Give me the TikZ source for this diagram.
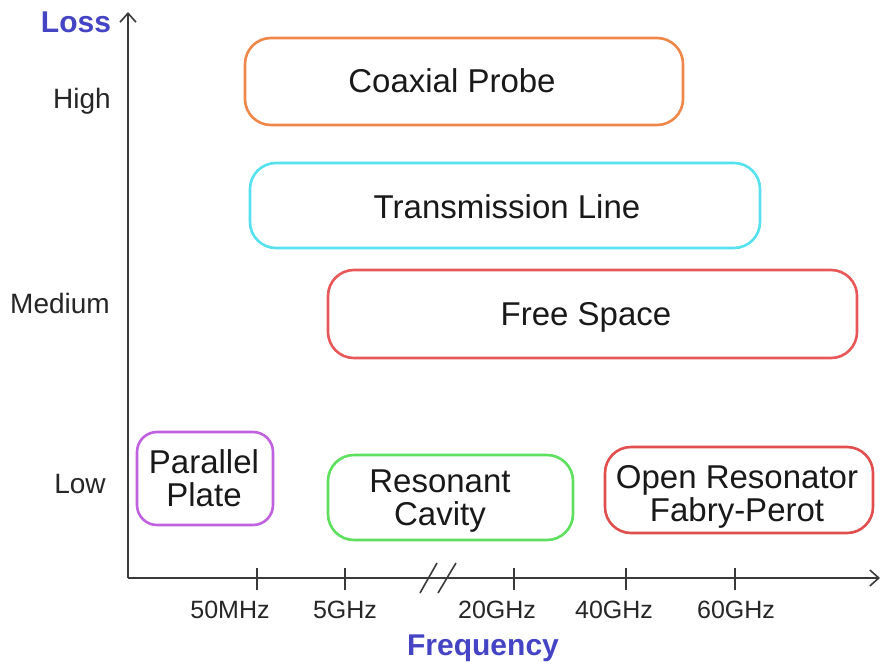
\documentclass[tikz,border=0pt]{standalone}
\usepackage{fontspec}
\setmainfont{Liberation Sans}
\usetikzlibrary{arrows.meta}
\definecolor{axisgray}{HTML}{3A3A3A}
\definecolor{axisblue}{HTML}{4444C4}
\definecolor{coaxorange}{HTML}{F0874A}
\definecolor{tlcyan}{HTML}{55E2EE}
\definecolor{fsred}{HTML}{E85858}
\definecolor{ppurple}{HTML}{C062E0}
\definecolor{rcgreen}{HTML}{5EE05E}
\definecolor{orred}{HTML}{E04E4E}
\begin{document}
\begin{tikzpicture}[x=1pt,y=-1pt,
  band/.style={draw, line width=2.6pt, rounded corners=26pt, inner sep=0pt},
  bandtxt/.style={inner sep=0pt, align=center, text=black!90,
    font=\fontsize{33}{33}\selectfont},
  lvl/.style={font=\fontsize{28}{32}\selectfont, text=black!85},
  tick/.style={font=\fontsize{25}{29}\selectfont, text=black!85},
  axislbl/.style={font=\bfseries\fontsize{30}{34}\selectfont, text=axisblue},
  axisline/.style={draw=axisgray, line width=1.6pt},
  ticmark/.style={draw=axisgray, line width=1.6pt}]
\useasboundingbox (0,0) rectangle (882,663);
\fill[white] (0,0) rectangle (882,663);

% axes
\coordinate (origin) at (128,578);
\coordinate (ytop) at (128,12);
\coordinate (xend) at (880,578);
\draw[axisline, -{Straight Barb[length=9pt,width=16pt]}] (origin) -- (ytop);
\draw[axisline, -{Straight Barb[length=9pt,width=16pt]}] (origin) -- (xend);

% axis break
\coordinate (b1a) at (420,593); \coordinate (b1b) at (437,563);
\coordinate (b2a) at (438,593); \coordinate (b2b) at (456,563);
\draw[ticmark] (b1a) -- (b1b);
\draw[ticmark] (b2a) -- (b2b);

% ticks and labels
\foreach \nm/\xx/\lx/\txt in {t1/257/230/50MHz, t2/345/345/5GHz, t3/514/497/20GHz, t4/626/614/40GHz, t5/735/736/60GHz}{
  \coordinate (\nm) at (\xx,578);
  \draw[ticmark] ([yshift=-12pt]\nm) -- ([yshift=10pt]\nm);
  \node[tick] (\nm lbl) at (\lx,610) {\txt};
}

% axis titles
\node[axislbl] (losslbl) at (76,22) {Loss};
\node[axislbl] (freqlbl) at (483,648) {Frequency};

% loss levels
\node[lvl] (high) at (82,101) {High};
\node[lvl] (medium) at (60,303) {Medium};
\node[lvl] (low) at (80,484) {Low};

% measurement method bands
\node[band, draw=coaxorange, minimum width=438pt, minimum height=87pt] (coax) at (464,81.5) {};
\node[band, draw=tlcyan, minimum width=510pt, minimum height=85pt] (tline) at (505,205.5) {};
\node[band, draw=fsred, minimum width=529pt, minimum height=88pt] (fspace) at (592.5,314) {};
\node[band, draw=ppurple, minimum width=136pt, minimum height=93pt, rounded corners=20pt] (pplate) at (205,478.5) {};
\node[band, draw=rcgreen, minimum width=245pt, minimum height=85pt] (rcav) at (450.5,497.5) {};
\node[band, draw=orred, minimum width=268pt, minimum height=86pt] (openres) at (739,490) {};

% band captions
\node[bandtxt] (coaxtxt) at (452,81) {Coaxial Probe};
\node[bandtxt] (tlinetxt) at (507,207) {Transmission Line};
\node[bandtxt] (fspacetxt) at (586,317) {Free Space};
\node[bandtxt] (pplatetxt) at (204,478.5) {Parallel\\Plate};
\node[bandtxt] (rcavtxt) at (440,501) {Resonant\\Cavity};
\node[bandtxt] (openrestxt) at (737,497) {Open Resonator\\Fabry-Perot};
\end{tikzpicture}
\end{document}
